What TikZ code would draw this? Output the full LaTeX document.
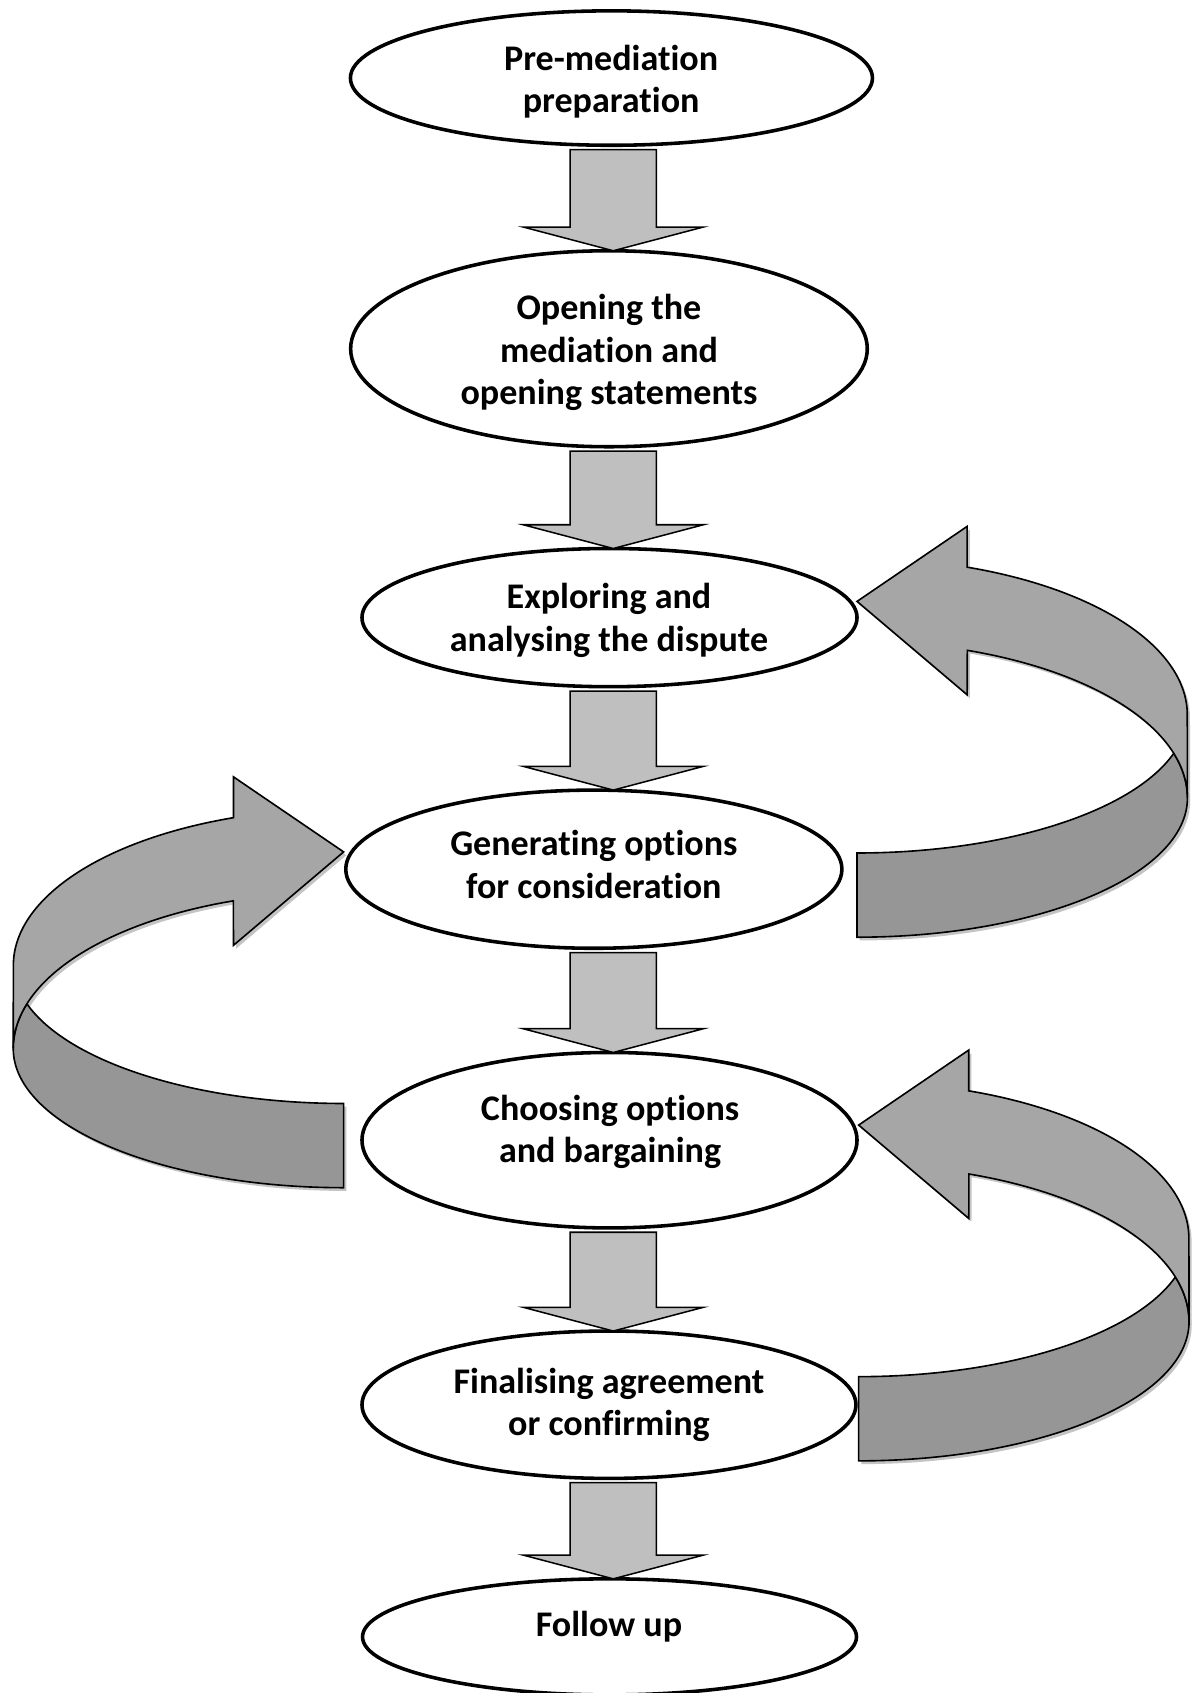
\documentclass[tikz,border=0pt]{standalone}
\usepackage{fontspec}
\setmainfont[Ligatures={NoCommon,NoContextual},Contextuals=NoAlternate]{Carlito}
\usetikzlibrary{shapes.geometric,calc}
\definecolor{arrowfill}{HTML}{BFBFBF}
\definecolor{ribbonlight}{HTML}{A6A6A6}
\definecolor{ribbondark}{HTML}{969696}
\definecolor{ribbonshadow}{HTML}{C4C4C4}
\tikzset{
  stage/.style={draw=black, line width=3.3pt, ellipse, fill=white, inner sep=0pt, outer sep=0pt},
  stagetext/.style={align=center, inner sep=0pt, font=\fontsize{33.4}{39.3}\selectfont\bfseries},
  downarrow/.style={draw=black, fill=arrowfill, line width=1.4pt, line join=miter},
  ribbonline/.style={draw=black, line width=1.5pt, line join=miter},
  pics/ribbon/.style={code={
    \begin{scope}[shift={(#1,3)}]
      \fill[ribbonshadow] (0,233) arc[start angle=90, end angle=16.54, x radius=306, y radius=129]
        arc[start angle=-16.54, end angle=0, x radius=306, y radius=145]
        arc[start angle=0, end angle=90, x radius=306, y radius=129] -- cycle;
      \fill[ribbonshadow] (0,0) -- (102,-69.5) -- (102,-31.7)
        arc[start angle=-70.5, end angle=0, x radius=306, y radius=145] -- (306,182)
        arc[start angle=0, end angle=-70.5, x radius=306, y radius=145] -- (102,86.5) -- cycle;
    \end{scope}
    \filldraw[ribbonline, fill=ribbondark] (0,233) arc[start angle=90, end angle=16.54, x radius=306, y radius=129]
      arc[start angle=-16.54, end angle=0, x radius=306, y radius=145]
      arc[start angle=0, end angle=90, x radius=306, y radius=129] -- cycle;
    \filldraw[ribbonline, fill=ribbonlight] (0,0) -- (102,-69.5) -- (102,-31.7)
      arc[start angle=-70.5, end angle=0, x radius=306, y radius=145] -- (306,182)
      arc[start angle=0, end angle=-70.5, x radius=306, y radius=145] -- (102,86.5) -- cycle;
  }}
}
\newcommand\stagearrow[2]{%
  \draw[downarrow] let \p1=(ax |- #1.south), \p2=(ax |- #2.north) in
    (\x2,\y2) -- (\x2+83.5pt,\y2+22pt) -- (\x2+40pt,\y2+22pt) -- (\x2+40pt,\y1-4pt)
    -- (\x2-40pt,\y1-4pt) -- (\x2-40pt,\y2+22pt) -- (\x2-83.5pt,\y2+22pt) -- cycle;}
\begin{document}
\begin{tikzpicture}[x=1pt,y=-1pt]
\fill[white] (0,0) rectangle (1106,1568);
\useasboundingbox (0,0) rectangle (1106,1568);
\coordinate (ax) at (568,0);

\node[stage, minimum width=483.5, minimum height=124.5] (e1) at (566.3,72.3) {};
\node[stage, minimum width=478.5, minimum height=181.5] (e2) at (564,323) {};
\node[stage, minimum width=458.5, minimum height=128] (e3) at (564.5,572) {};
\node[stage, minimum width=459.5, minimum height=146.5] (e4) at (550,805) {};
\node[stage, minimum width=458.5, minimum height=162.5] (e5) at (564.5,1056) {};
\node[stage, minimum width=457.5, minimum height=136.5] (e6) at (564,1301) {};
\node[stage, minimum width=457.5, minimum height=107.5] (e7) at (564.5,1516) {};

\node[stagetext] (t1) at (566,75.4) {Pre-mediation\\preparation};
\node[stagetext] (t2) at (564,326.6) {Opening the\\mediation and\\opening statements};
\node[stagetext] (t3) at (564,574.5) {Exploring and\\analysing the dispute};
\node[stagetext] (t4) at (550,800.5) {Generating options\\for consideration};
\node[stagetext] (t5) at (565,1048.5) {Choosing options\\and bargaining};
\node[stagetext] (t6) at (564,1301) {Finalising agreement\\or confirming};
\node[stagetext] (t7) at (564,1507) {Follow up};

\stagearrow{e1}{e2}
\stagearrow{e2}{e3}
\stagearrow{e3}{e4}
\stagearrow{e4}{e5}
\stagearrow{e5}{e6}
\stagearrow{e6}{e7}

\pic at ($(e3.east)+(0,-15)$) {ribbon=2.5};
\pic at ($(e5.east)+(1.5,-14)$) {ribbon=2.5};
\pic[xscale=-1] at ($(e4.west)+(-2,-16)$) {ribbon=-2.5};
\end{tikzpicture}
\end{document}
